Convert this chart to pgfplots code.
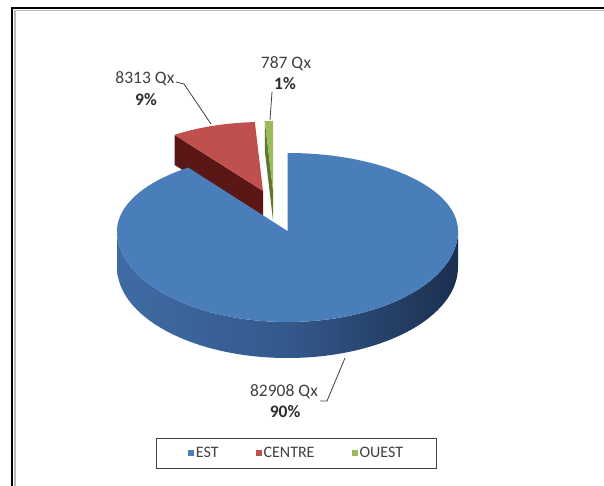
\documentclass[border=0pt]{standalone}
\usepackage{fontspec}
\setmainfont{Carlito}
\usepackage{pgfplots}
\pgfplotsset{compat=1.18}
\definecolor{estTop}{HTML}{4A7EBB}
\definecolor{estSideL}{HTML}{3F6BA4}
\definecolor{estSideM}{HTML}{34598C}
\definecolor{estSideR}{HTML}{1B2F4E}
\definecolor{cenTop}{HTML}{C0504D}
\definecolor{cenSide}{HTML}{5A1715}
\definecolor{ouTop}{HTML}{9BBB59}
\definecolor{ouSide}{HTML}{5E7731}
\definecolor{txt}{HTML}{404040}

\tikzset{
  lab/.style={text=txt, font=\fontsize{17.5}{20}\selectfont, inner sep=0pt},
  pct/.style={text=txt!70!black, font=\fontsize{17.5}{20}\selectfont\bfseries, inner sep=0pt},
}

% data (quintaux)
\def\vEST{82908}
\def\vCEN{8313}
\def\vOU{787}
\pgfkeys{/pgf/fpu=true,/pgf/fpu/output format=fixed}
\pgfmathsetmacro\aEST{360*\vEST/(\vEST+\vCEN+\vOU)}
\pgfmathsetmacro\aCEN{360*\vCEN/(\vEST+\vCEN+\vOU)}
\pgfkeys{/pgf/fpu=false}
\pgfmathsetmacro\bA{450-\aEST}   % EST / CENTRE boundary (math angle)
\pgfmathsetmacro\cA{\bA-\aCEN}   % CENTRE / OUEST boundary

% front (EST) slice geometry
\def\rx{170.5pt}
\def\ryt{78pt}
\def\ryb{91pt}
\def\dep{36pt}
% back (exploded) slices, smaller through perspective
\def\rxb{152pt}
\def\ryk{69pt}
\def\depk{30pt}

\begin{document}
\begin{tikzpicture}
\begin{axis}[
  x=1pt, y=1pt, xmin=0, xmax=604, ymin=0, ymax=486,
  hide axis, clip=false,
  legend columns=3,
  legend style={at={(axis cs:296.5,32.5)}, anchor=center,
    draw=black!75, line width=1.1pt, text=txt,
    font=\fontsize{16}{18}\selectfont,
    inner xsep=31pt, inner ysep=7pt,
    /tikz/every even column/.append style={column sep=35pt}},
  legend image code/.code={\fill[#1] (0pt,-3pt) rectangle (6pt,3pt);},
]
\coordinate (BL) at (axis cs:0,0);
\coordinate (TR) at (axis cs:604,486);

% outer frame
\draw[gray!55, line width=1.4pt] (axis cs:14.8,0) -- (axis cs:14.8,475.2) -- (axis cs:604,475.2);
\draw[black, line width=2pt] (axis cs:12,0) -- (axis cs:12,478) -- (axis cs:604,478);

% vertices of the exploded slices
\coordinate (Vb) at (axis cs:287.5,255);
\coordinate (Vr) at (axis cs:263,295);
\coordinate (Vg) at (axis cs:273,296);

% CENTRE slice
\fill[cenSide] (Vr) -- ++(\bA:{\rxb} and {\ryk}) -- ++(0pt,-\depk) -- ([yshift=-\depk]Vr) -- cycle;
\fill[cenTop] (Vr) -- ++(\cA:{\rxb} and {\ryk}) arc[start angle=\cA, end angle=\bA, x radius=\rxb, y radius=\ryk] -- cycle;

% OUEST slice
\fill[ouSide] (Vg) -- ++(\cA:{\rxb} and {\ryk}) -- ++(0pt,-\depk) -- ([yshift=-\depk]Vg) -- cycle;
\fill[ouTop] (Vg) -- ++(0pt,\ryk) arc[start angle=90, end angle=\cA, x radius=\rxb, y radius=\ryk] -- cycle;

% EST slice: side
\shade[left color=estSideL, right color=estSideR, middle color=estSideM]
  ([xshift=-\rx]Vb) arc[start angle=180, end angle=360, x radius=\rx, y radius=\ryb]
  -- ++(0pt,-\dep) arc[start angle=360, end angle=180, x radius=\rx, y radius=\ryb] -- cycle;
% EST slice: top
\fill[estTop] (Vb) -- ++(\bA:{\rx} and {\ryt})
  arc[start angle=\bA, end angle=180, x radius=\rx, y radius=\ryt]
  arc[start angle=180, end angle=360, x radius=\rx, y radius=\ryb]
  arc[start angle=0, end angle=90, x radius=\rx, y radius=\ryt] -- cycle;

% leader lines
\draw[txt, line width=0.8pt] (axis cs:176,404) -- (axis cs:184,402) -- (axis cs:211,362);
\draw[txt, line width=0.8pt] (axis cs:272,394) -- (axis cs:270,366);
\draw[txt, line width=0.8pt] (axis cs:320,85) -- (axis cs:327,85) -- (axis cs:345,128);

% data labels
\node[lab] at (axis cs:145,407) {8313 Qx};
\node[pct] at (axis cs:146,386) {9\%};
\node[lab] at (axis cs:286,422) {787 Qx};
\node[pct] at (axis cs:285,402) {1\%};
\node[lab] at (axis cs:284,94) {82908 Qx};
\node[pct] at (axis cs:285,74) {90\%};

\addlegendimage{fill=estTop, draw=none}
\addlegendentry{EST}
\addlegendimage{fill=cenTop, draw=none}
\addlegendentry{CENTRE}
\addlegendimage{fill=ouTop, draw=none}
\addlegendentry{OUEST}
\end{axis}
\pgfresetboundingbox
\path[use as bounding box] (BL) rectangle (TR);
\end{tikzpicture}
\end{document}
